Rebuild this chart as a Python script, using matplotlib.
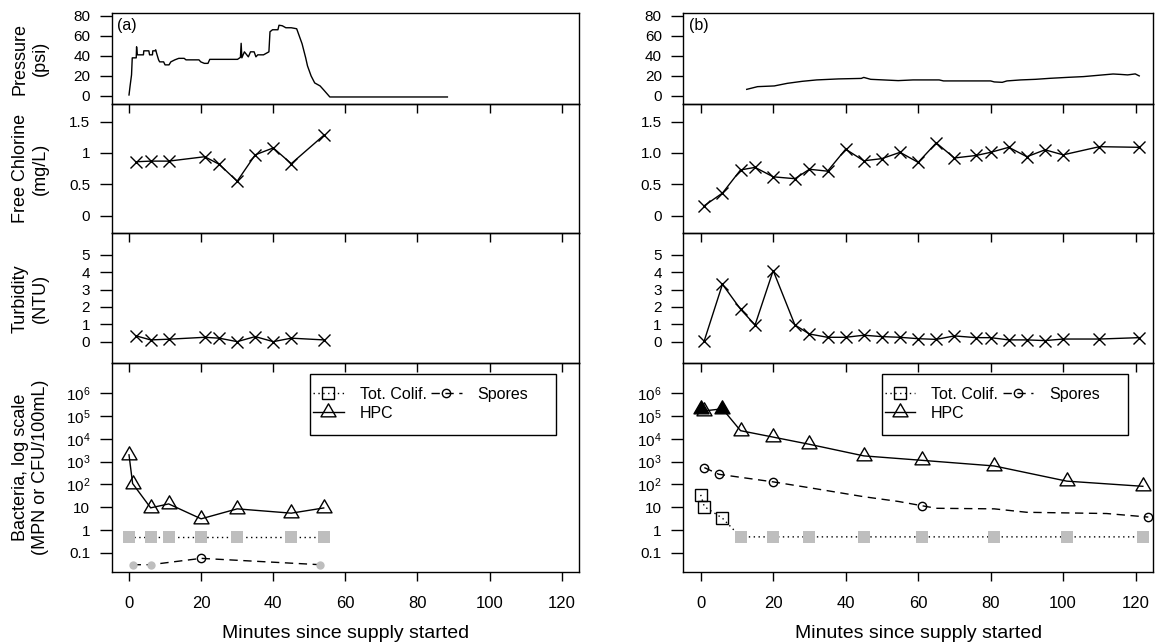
import numpy as np
import matplotlib.pyplot as plt
from matplotlib.path import Path
from matplotlib.lines import Line2D
from matplotlib.patches import Rectangle
from matplotlib.ticker import FixedLocator, NullLocator, FixedFormatter

plt.rcParams['font.family'] = 'Liberation Sans'
plt.rcParams['mathtext.fontset'] = 'custom'
plt.rcParams['mathtext.rm'] = 'Liberation Sans'
plt.rcParams['mathtext.it'] = 'Liberation Sans:italic'

# ---- data, panel (a) ----
pres_a_t = [0, 0.3, 0.7, 0.9, 2.0, 2.1, 2.3, 4.0, 4.1, 5.5, 5.7, 6.5, 6.6, 7.2, 7.4, 7.7,
            8.2, 8.5, 9.6, 10.0, 11.1, 11.6, 12.7, 13.8, 15.3, 15.8, 19.4, 19.9, 20.9, 21.9,
            22.4, 30.1, 30.9, 31.1, 31.3, 32.0, 33.1, 33.7, 34.7, 35.2, 35.7, 37.3, 38.8, 39.1,
            39.8, 41.3, 41.6, 42.5, 43.5, 45.0, 46.5, 47.2, 48.0, 48.5, 49.0, 49.5, 50.5, 51.5,
            53.0, 54.0, 55.7, 88.3]
pres_a = [1, 10, 21, 38, 38, 49, 41, 41, 45, 45, 41, 41, 45, 45, 46, 42,
          36, 34, 34, 31, 31, 34, 36, 37.5, 37.5, 36, 36, 34, 32.5, 32.5,
          36.5, 36.5, 38.5, 52.5, 38, 44, 39, 44, 44, 39, 41, 41, 44, 64,
          66, 66, 70.5, 70, 68, 68, 67, 60, 52, 45, 38, 30, 20, 13,
          10, 6, -1, -1]

wq_a_t = [2, 6, 11, 21, 25, 30, 35, 40, 45, 54]
chlor_a = [0.86, 0.87, 0.87, 0.94, 0.82, 0.55, 0.97, 1.08, 0.83, 1.28]
turb_a = [0.33, 0.10, 0.14, 0.25, 0.20, 0.0, 0.29, 0.0, 0.20, 0.10]

hpc_a_t = [0, 1, 6, 11, 20, 30, 45, 54]
hpc_a = [2000, 110, 9.4, 14, 3.1, 8.5, 5.5, 9.3]
hpc_a_cens = [False, False, False, False, False, False, False, False]
coli_a_t = [0, 6, 11, 20, 30, 45, 54]
coli_a = [0.5, 0.5, 0.5, 0.5, 0.5, 0.5, 0.5]
coli_a_det = [False, False, False, False, False, False, False]
spor_a_t = [1, 6, 20, 53]
spor_a = [0.03, 0.03, 0.057, 0.03]
spor_a_det = [False, False, True, False]
spor_a_line_t = [1, 6, 20, 53]
spor_a_line = [0.03, 0.03, 0.057, 0.03]

# ---- data, panel (b) ----
pres_b_t = [12.7, 15.7, 20.3, 23.9, 28.0, 32.0, 38.0, 44.3, 45.0, 46.9, 54.5, 58.6, 65.8, 67.0,
            80.0, 81.0, 83.2, 84.5, 88.3, 92.4, 96.4, 101.5, 105.6, 109.7, 113.8, 115.8, 117.8,
            119.9, 121.0]
pres_b = [6.6, 9.3, 10, 12.6, 14.6, 16, 17, 17.5, 18.5, 16.6, 15.3, 16, 16, 15,
          15, 14, 13.6, 15, 16, 16.6, 17.6, 18.6, 19.3, 20.6, 21.9, 21.5, 21,
          22, 20]

wq_b_t = [1, 6, 11, 15, 20, 26, 30, 35, 40, 45, 50, 55, 60, 65, 70, 76, 80, 85, 90, 95,
          100, 110, 121]
chlor_b = [0.16, 0.36, 0.73, 0.77, 0.62, 0.59, 0.74, 0.71, 1.06, 0.875, 0.91, 1.01, 0.85,
           1.16, 0.92, 0.96, 1.01, 1.09, 0.94, 1.05, 0.97, 1.10, 1.09]
turb_b = [0.06, 3.31, 1.87, 0.96, 4.10, 0.96, 0.44, 0.25, 0.25, 0.37, 0.29, 0.25, 0.17,
          0.13, 0.33, 0.23, 0.23, 0.10, 0.10, 0.06, 0.15, 0.15, 0.23]

hpc_b_t = [0, 1, 6, 11, 20, 30, 45, 61, 81, 101, 122]
hpc_b = [2.1e5, 1.7e5, 2.1e5, 2.3e4, 1.2e4, 5800, 1800, 1150, 650, 140, 83]
hpc_b_cens = [True, False, True, False, False, False, False, False, False, False, False]
coli_b_t = [0, 1, 6, 11, 20, 30, 45, 61, 81, 101, 122]
coli_b = [35, 10.7, 3.3, 0.5, 0.5, 0.5, 0.5, 0.5, 0.5, 0.5, 0.5]
coli_b_det = [True, True, True, False, False, False, False, False, False, False, False]
spor_b_t = [1, 5, 20, 61, 123.5]
spor_b = [550, 280, 130, 11.7, 3.7]
spor_b_det = [True, True, True, True, True]
spor_b_line_t = [1, 5, 20, 30, 45, 54.5, 61, 65, 81, 90, 112, 123.5]
spor_b_line = [550, 280, 130, 72, 29, 18, 11.7, 9, 8.5, 6, 5.3, 3.7]

bact_ticks = [0.1, 1, 10, 1e2, 1e3, 1e4, 1e5, 1e6]
bact_labels = ['0.1', '1', '10', r'$\mathregular{10^2}$', r'$\mathregular{10^3}$',
               r'$\mathregular{10^4}$', r'$\mathregular{10^5}$', r'$\mathregular{10^6}$']

GREY = '#BEBEBE'
# R-style triangle: centroid at the data point
TRI = Path([(0, 1.555), (1.347, -0.778), (-1.347, -0.778), (0, 1.555)], closed=True)

W, H = 1157, 644
fig = plt.figure(figsize=(W / 100, H / 100), dpi=100)


def px_box(x0, x1, y0, y1):
    return [x0 / W, 1 - y1 / H, (x1 - x0) / W, (y1 - y0) / H]


cols = [(111.7, 579), (683.3, 1153)]
rows = [(13.3, 104), (104, 233.3), (233.3, 363.3), (363.3, 571.7)]


def style_axes(ax, bottom_labels):
    ax.set_facecolor('none')
    ax.set_xlim(-4.8, 124.8)
    ax.set_xticks([0, 20, 40, 60, 80, 100, 120])
    for s in ax.spines.values():
        s.set_linewidth(1.0)
    ax.tick_params(axis='y', direction='out', length=8.5, width=1.0, pad=7, labelsize=11)
    ax.tick_params(axis='x', direction='out', length=6.5, width=1.0, pad=11, labelsize=12,
                   labelbottom=bottom_labels)


def plot_series(ax, t, v, ls, marker, ms, flags, fill_color, line_t=None, line_v=None):
    if line_t is None:
        line_t, line_v = t, v
    ax.plot(line_t, line_v, color='black', lw=1.0, ls=ls, zorder=3)
    for ti, vi, f in zip(t, v, flags):
        if f == 'open':
            ax.plot([ti], [vi], marker=marker, ms=ms, mfc='none', mec='black', mew=1.0,
                    ls='none', zorder=4)
        elif f == 'grey':
            ax.plot([ti], [vi], marker=marker, ms=ms, mfc=fill_color, mec=fill_color,
                    mew=0, ls='none', zorder=4)
        else:
            ax.plot([ti], [vi], marker=marker, ms=ms, mfc='black', mec='black', mew=1.0,
                    ls='none', zorder=4)


panels = [
    dict(pt=pres_a_t, p=pres_a, wt=wq_a_t, cl=chlor_a, tu=turb_a, clfmt=['0', '0.5', '1', '1.5'],
         hpc_t=hpc_a_t, hpc=hpc_a, hpc_c=hpc_a_cens, co_t=coli_a_t, co=coli_a, co_d=coli_a_det,
         sp_t=spor_a_t, sp=spor_a, sp_d=spor_a_det, sl_t=spor_a_line_t, sl=spor_a_line, tag='(a)'),
    dict(pt=pres_b_t, p=pres_b, wt=wq_b_t, cl=chlor_b, tu=turb_b, clfmt=['0', '0.5', '1.0', '1.5'],
         hpc_t=hpc_b_t, hpc=hpc_b, hpc_c=hpc_b_cens, co_t=coli_b_t, co=coli_b, co_d=coli_b_det,
         sp_t=spor_b_t, sp=spor_b, sp_d=spor_b_det, sl_t=spor_b_line_t, sl=spor_b_line, tag='(b)'),
]

for d, (x0, x1) in zip(panels, cols):
    axs = [fig.add_axes(px_box(x0, x1, y0, y1)) for (y0, y1) in rows]
    for i, ax in enumerate(axs):
        style_axes(ax, i == 3)

    # pressure
    ax = axs[0]
    ax.plot(d['pt'], d['p'], color='black', lw=1.0)
    ax.set_ylim(-8, 82.4)
    ax.set_yticks([0, 20, 40, 60, 80])
    ax.text(0.012, 0.86, d['tag'], transform=ax.transAxes, fontsize=11.5, va='center', ha='left')

    # chlorine
    ax = axs[1]
    ax.plot(d['wt'], d['cl'], color='black', lw=1.0, marker='x', ms=8.5, mew=1.0)
    ax.set_ylim(-0.28, 1.78)
    ax.yaxis.set_major_locator(FixedLocator([0, 0.5, 1.0, 1.5]))
    ax.yaxis.set_major_formatter(FixedFormatter(d['clfmt']))

    # turbidity
    ax = axs[2]
    ax.plot(d['wt'], d['tu'], color='black', lw=1.0, marker='x', ms=8.5, mew=1.0)
    ax.set_ylim(-1.25, 6.25)
    ax.set_yticks([0, 1, 2, 3, 4, 5])

    # bacteria
    ax = axs[3]
    ax.set_yscale('log')
    ax.set_ylim(10 ** -1.83, 10 ** 7.32)
    ax.yaxis.set_major_locator(FixedLocator(bact_ticks))
    ax.yaxis.set_major_formatter(FixedFormatter(bact_labels))
    ax.yaxis.set_minor_locator(NullLocator())

    plot_series(ax, d['co_t'], d['co'], (0, (1, 2.5)), 's', 8,
                ['open' if f else 'grey' for f in d['co_d']], GREY)
    plot_series(ax, d['sp_t'], d['sp'], (0, (6, 4)), 'o', 6,
                ['open' if f else 'grey' for f in d['sp_d']], GREY,
                d['sl_t'], d['sl'])
    plot_series(ax, d['hpc_t'], d['hpc'], '-', TRI, 12.5,
                ['filled' if c else 'open' for c in d['hpc_c']], 'black')

    # legend
    h_co = Line2D([], [], color='black', lw=1.0, ls=(0, (1, 2.5)), marker='s', ms=8,
                  mfc='none', mec='black')
    h_hpc = Line2D([], [], color='black', lw=1.0, ls='-', marker=TRI, ms=12.5,
                   mfc='none', mec='black')
    h_sp = Line2D([], [], color='black', lw=1.0, ls=(0, (6, 4)), marker='o', ms=6,
                  mfc='none', mec='black')
    lx0 = x0 + 198.5
    fig.legend([h_co, h_hpc, h_sp], ['Tot. Colif.', 'HPC', 'Spores'], ncol=2,
               loc='upper left', bbox_to_anchor=((lx0 + 3) / W, 1 - 387 / H),
               frameon=False, fontsize=11.5, handlelength=1.9, handletextpad=1.0,
               columnspacing=0.3, labelspacing=0.25, borderpad=0, borderaxespad=0)
    fig.add_artist(Rectangle((lx0 / W, 1 - 435 / H), 246 / W, 61 / H,
                             transform=fig.transFigure, fill=False, ec='black', lw=1.0))

    fig.text((x0 + x1) / 2 / W, 1 - 633 / H, 'Minutes since supply started',
             fontsize=14, ha='center', va='center')

# y-axis titles (left column only)
ylabels = ['Pressure\n(psi)', 'Free Chlorine\n(mg/L)', 'Turbidity\n(NTU)',
           'Bacteria, log scale\n(MPN or CFU/100mL)']
for lab, (y0, y1) in zip(ylabels, rows):
    fig.text(30.5 / W, 1 - (y0 + y1) / 2 / H, lab, rotation=90, fontsize=13,
             ha='center', va='center', multialignment='center', linespacing=1.25)

fig.savefig('out.png', dpi=100)
